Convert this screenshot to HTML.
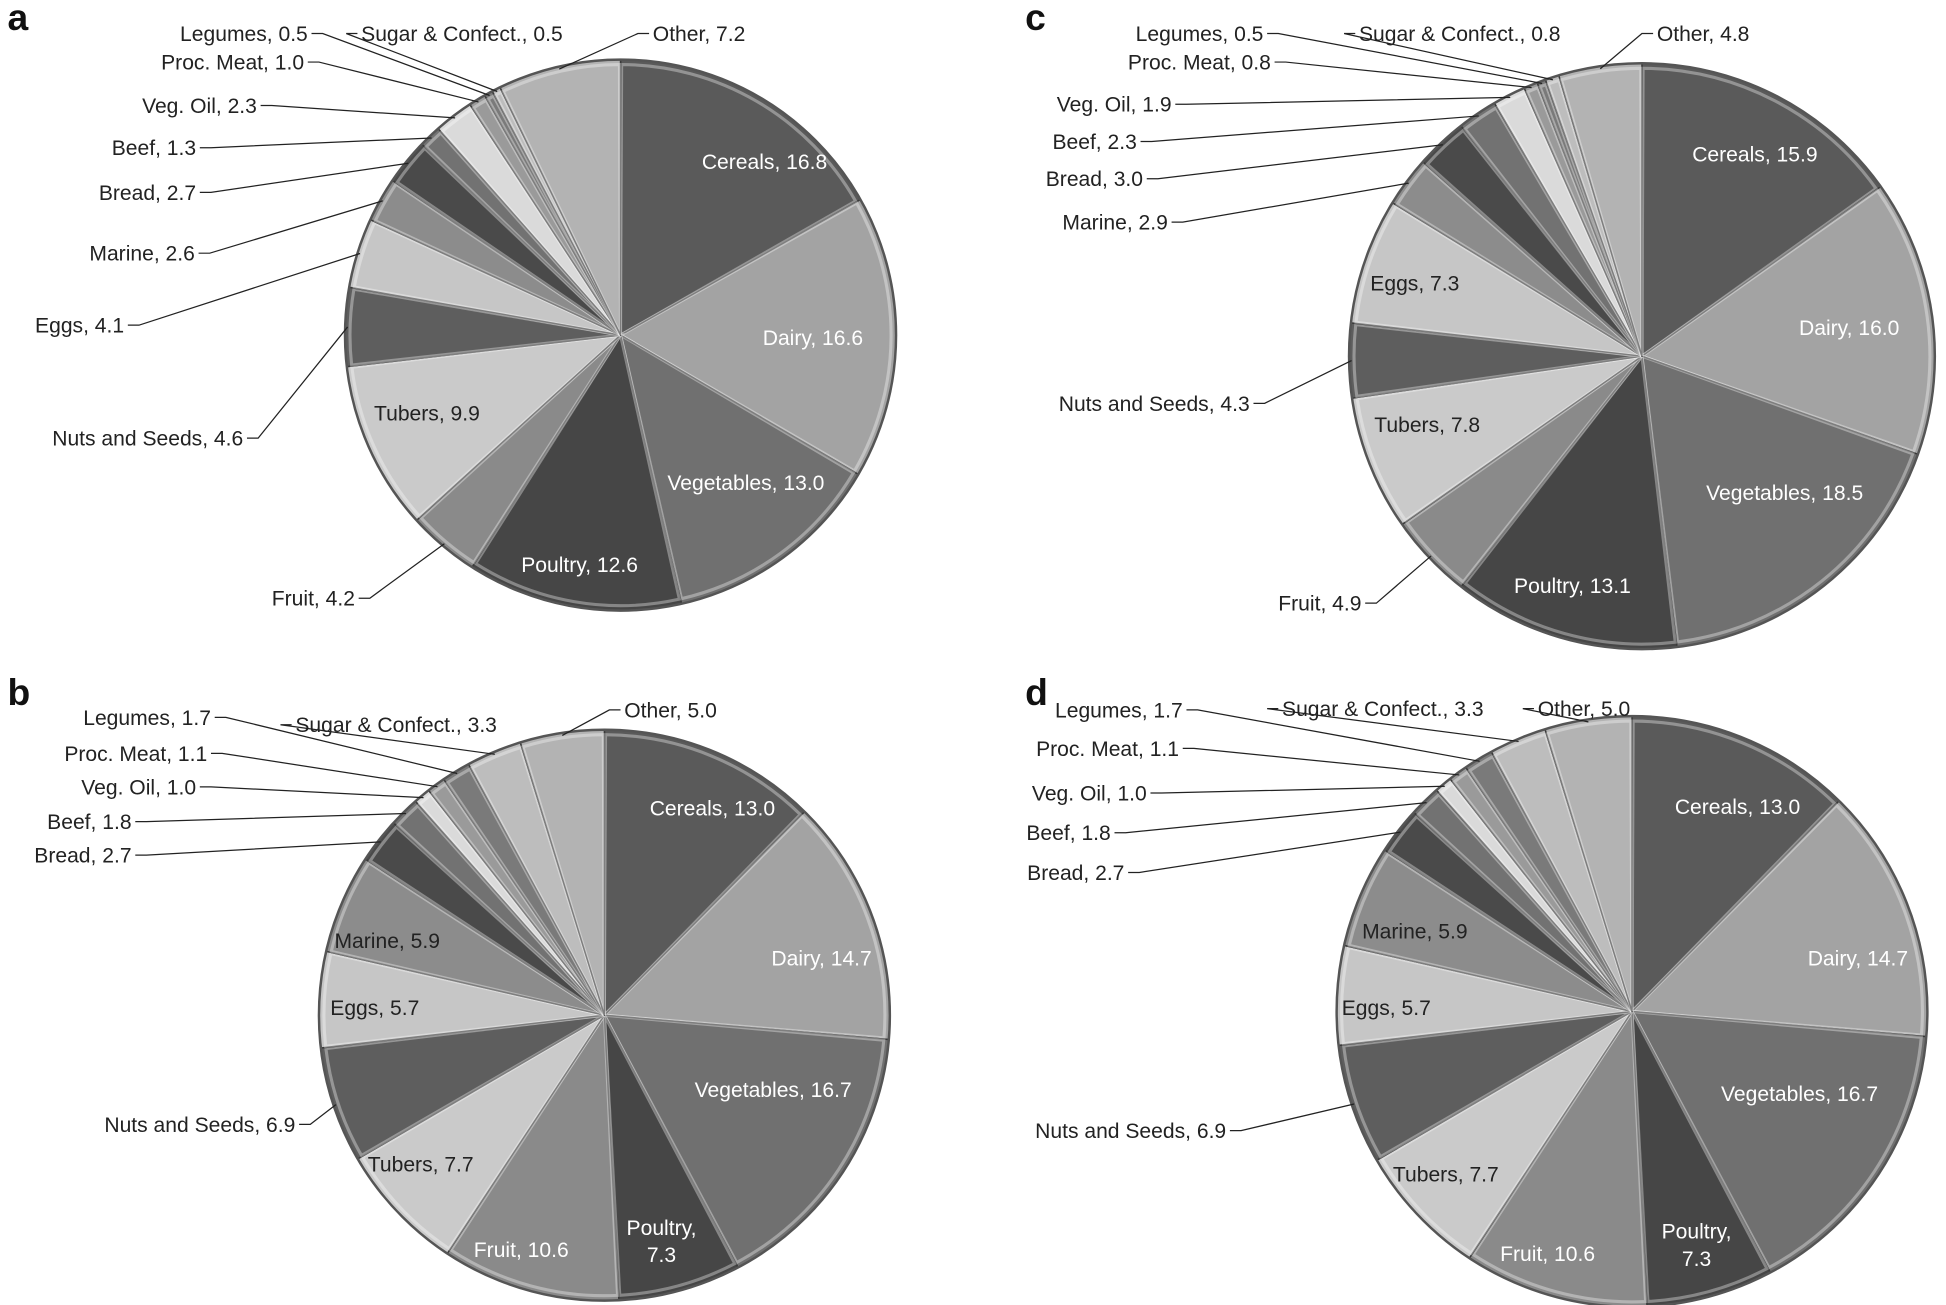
<!DOCTYPE html>
<html><head><meta charset="utf-8"><style>
html,body{margin:0;padding:0;background:#fff;}
svg{display:block;font-family:"Liberation Sans",sans-serif;}
</style></head><body>
<svg id="chart" width="1946" height="1305" viewBox="0 0 1568 1051.5" xmlns="http://www.w3.org/2000/svg"></svg>
<script>
const categories = ["Cereals","Dairy","Vegetables","Poultry","Fruit","Tubers","Nuts and Seeds","Eggs","Marine","Bread","Beef","Veg. Oil","Proc. Meat","Legumes","Sugar & Confect.","Other"];
const valuesA = [16.8,16.6,13.0,12.6,4.2,9.9,4.6,4.1,2.6,2.7,1.3,2.3,1.0,0.5,0.5,7.2];
const valuesB = [13.0,14.7,16.7,7.3,10.6,7.7,6.9,5.7,5.9,2.7,1.8,1.0,1.1,1.7,3.3,5.0];
const valuesC = [15.9,16.0,18.5,13.1,4.9,7.8,4.3,7.3,2.9,3.0,2.3,1.9,0.8,0.5,0.8,4.8];
const valuesD = [13.0,14.7,16.7,7.3,10.6,7.7,6.9,5.7,5.9,2.7,1.8,1.0,1.1,1.7,3.3,5.0];
const panelNames = ["a","b","c","d"];

const sliceColors = ["#5a5a5a","#a3a3a3","#707070","#464646","#8a8a8a","#cacaca","#5e5e5e","#c6c6c6","#8c8c8c","#4a4a4a","#727272","#dadada","#9a9a9a","#7a7a7a","#bdbdbd","#b3b3b3"];
const labelColors = ["#fff","#fff","#fff","#fff","#fff","#222","#fff","#222","#222","#fff","#fff","#222","#fff","#fff","#222","#222"];

const layouts = [
  [500,270,222,6,24],[487,818,230,6,568],[1323,287,236,826,24],[1315,815,238,826,568]
];
const labelLayouts = [
 {0:["in",616,130],1:["in",655,272],2:["in",601,389],3:["in",467,455],5:["in",344,333],
  4:["end",286,482],6:["end",196,353],7:["end",100,262],8:["end",157,204],9:["end",158,155],10:["end",158,119],11:["end",207,85],12:["end",245,50],13:["end",248,27],14:["start",291,27],15:["start",526,27]},
 {0:["in",574,651],1:["in",662,772],2:["in",623,878],3:["in2",533,995],4:["in",420,1007],5:["in",339,938],7:["in",302,812],8:["in",312,758],
  6:["end",238,906],9:["end",106,689],10:["end",106,662],11:["end",158,634],12:["end",167,607],13:["end",170,578],14:["start",238,584],15:["start",503,572]},
 {0:["in",1414,124],1:["in",1490,264],2:["in",1438,397],3:["in",1267,472],5:["in",1150,342],7:["in",1140,228],
  4:["end",1097,486],6:["end",1007,325],8:["end",941,179],9:["end",921,144],10:["end",916,114],11:["end",944,84],12:["end",1024,50],13:["end",1018,27],14:["start",1095,27],15:["start",1335,27]},
 {0:["in",1400,650],1:["in",1497,772],2:["in",1450,881],3:["in2",1367,998],4:["in",1247,1010],5:["in",1165,946],7:["in",1117,812],8:["in",1140,750],
  6:["end",988,911],9:["end",906,703],10:["end",895,671],11:["end",924,639],12:["end",950,603],13:["end",953,572],14:["start",1033,571],15:["start",1239,571]}
];
const allValues = [valuesA,valuesB,valuesC,valuesD];
const NS = "http://www.w3.org/2000/svg";
const svg = document.getElementById("chart");
function mk(tag, attrs, parent){ const e=document.createElementNS(NS,tag); for(const k in attrs) e.setAttribute(k,attrs[k]); (parent||svg).appendChild(e); return e; }
function pt(cx,cy,r,a){ return [cx+r*Math.sin(a), cy-r*Math.cos(a)]; }
function angleScale(vals){ const tot=vals.reduce((s,v)=>s+v,0); return v=>v/tot*2*Math.PI; }

allValues.forEach((vals,p)=>{
  const [cx,cy,r,lx,ly]=layouts[p];
  const g=mk("g",{});
  
  
  const letter=mk("text",{x:lx,y:ly,"font-size":30,"font-weight":"bold",fill:"#111"},g);
  letter.textContent=panelNames[p];
  
  
  const ang=angleScale(vals);
  let a0=0; const mids=[];
  vals.forEach((v,i)=>{
    const a1=a0+ang(v);
    const [x0,y0]=pt(cx,cy,r,a0),[x1,y1]=pt(cx,cy,r,a1);
    const large=(a1-a0)>Math.PI?1:0;
    const path=mk("path",{d:`M${cx},${cy}L${x0},${y0}A${r},${r} 0 ${large} 1 ${x1},${y1}Z`,fill:sliceColors[i],stroke:"#3a3a3a","stroke-width":1.2,"stroke-linejoin":"round"},g);
    
    
    const r2=r-4;
    const [u0,w0]=pt(cx,cy,r2,a0+0.004),[u1,w1]=pt(cx,cy,r2,a1-0.004);
    if(a1-a0>0.02){
      const hl=mk("path",{d:`M${cx},${cy}L${u0},${w0}A${r2},${r2} 0 ${large} 1 ${u1},${w1}Z`,fill:"none",stroke:"rgba(255,255,255,0.35)","stroke-width":2.5},g);
      
      
    }
    mids.push((a0+a1)/2);
    a0=a1;
  });
  const rim=mk("circle",{cx:cx,cy:cy,r:r,fill:"none",stroke:"#555","stroke-width":2},g);
  
  
  const L=labelLayouts[p];
  vals.forEach((v,i)=>{
    const spec=L[i]; if(!spec) return;
    const [type,x,y]=spec;
    const txt=categories[i]+", "+v.toFixed(1);
    const t=mk("text",{x:x,y:y+6,"font-size":17},g);
    
    
    if(type==="in"||type==="in2"){
      t.setAttribute("text-anchor","middle"); t.setAttribute("fill",labelColors[i]);
      if(type==="in2"){
        t.setAttribute("y",y);
        const s1=mk("tspan",{x:x},t); s1.textContent=categories[i]+",";
        const s2=mk("tspan",{x:x,dy:22},t); s2.textContent=v.toFixed(1);
      } else t.textContent=txt;
    } else {
      t.setAttribute("fill","#222");
      t.textContent=txt;
      const [ex,ey]=pt(cx,cy,r-2,mids[i]);
      let pts;
      if(type==="end"){ t.setAttribute("text-anchor","end"); pts=`${x+3},${y} ${x+12},${y} ${ex},${ey}`; }
      else { t.setAttribute("text-anchor","start"); pts=`${x-3},${y} ${x-12},${y} ${ex},${ey}`; }
      const ln=mk("polyline",{points:pts,fill:"none",stroke:"#222","stroke-width":1},g);
      
      
    }
  });
});
</script>
</body></html>
